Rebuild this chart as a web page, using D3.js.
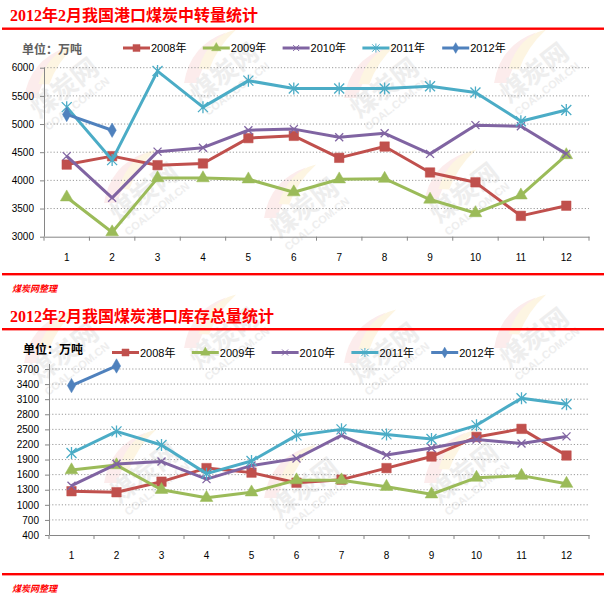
<!DOCTYPE html>
<html>
<head>
<meta charset="utf-8">
<script src="https://cdn.jsdelivr.net/npm/d3@7"></script>
<style>
  body { margin: 0; background: #fff; }
  svg { display: block; }
  .tick-label { font-family: "Liberation Sans", Arial, sans-serif; font-size: 10px; fill: #000; }
  .legend-text { font-family: "Liberation Sans", "Noto Sans CJK SC", sans-serif; font-size: 11px; fill: #000; }
  .title { font-family: "Liberation Serif", "Noto Sans CJK SC", serif; font-size: 16px; font-weight: bold; fill: #ff0000; }
  .footer { font-family: "Noto Sans CJK SC", sans-serif; font-size: 9px; font-weight: bold; font-style: italic; fill: #ff0000; }
  .unit { font-family: "Noto Sans CJK SC", sans-serif; font-size: 12px; font-weight: bold; }
</style>
</head>
<body>
<svg id="chart" width="606" height="596"></svg>
<script>
// months on the x axis
const months = ['1', '2', '3', '4', '5', '6', '7', '8', '9', '10', '11', '12'];
const seriesNames = ['2008年', '2009年', '2010年', '2011年', '2012年'];

// 港口煤炭中转量 (万吨)
const transfer2008 = [4280, 4430, 4270, 4300, 4750, 4790, 4400, 4600, 4140, 3965, 3370, 3550];
const transfer2009 = [3700, 3080, 4040, 4040, 4020, 3790, 4020, 4030, 3660, 3420, 3735, 4450];
const transfer2010 = [4430, 3690, 4510, 4580, 4890, 4910, 4765, 4835, 4470, 4980, 4960, 4470];
const transfer2011 = [5300, 4360, 5940, 5300, 5770, 5630, 5630, 5630, 5670, 5560, 5050, 5250];
const transfer2012 = [5170, 4890];

// 港口库存总量 (万吨)
const stock2008 = [1270, 1250, 1460, 1730, 1640, 1440, 1500, 1730, 1960, 2350, 2510, 1980];
const stock2009 = [1690, 1790, 1300, 1140, 1250, 1490, 1490, 1360, 1210, 1540, 1580, 1420];
const stock2010 = [1380, 1810, 1860, 1510, 1780, 1920, 2380, 1990, 2130, 2300, 2220, 2360];
const stock2011 = [2030, 2460, 2190, 1620, 1870, 2380, 2500, 2400, 2310, 2580, 3120, 3000];
const stock2012 = [3370, 3760];

const transferTicks = [3000, 3500, 4000, 4500, 5000, 5500, 6000];
const stockTicks = [400, 700, 1000, 1300, 1600, 1900, 2200, 2500, 2800, 3100, 3400, 3700];

const colors = ['#C0504D', '#9BBB59', '#8064A2', '#4BACC6', '#4F81BD'];
const markers = ['square', 'triangle', 'cross', 'star', 'diamond'];

const svg = d3.select('#chart');
svg.append('rect').attr('width', 606).attr('height', 596).attr('fill', '#fff');

// faint site watermark, kept inside the picture
const wm = svg.append('g');
[[70, 95], [230, 80], [390, 95], [540, 80],
 [150, 200], [310, 215], [470, 200],
 [70, 360], [230, 345], [390, 360], [540, 345],
 [150, 480], [310, 495], [470, 480]].forEach(([x, y]) => {
  const g = wm.append('g').attr('transform', `translate(${x},${y}) rotate(-38)`);
  g.append('path').attr('d', 'M-38,-26 Q-10,-52 26,-40 Q0,-36 -28,-18 Z').attr('fill', '#fcecec');
  g.append('path').attr('d', 'M-18,-28 Q10,-48 36,-36 Q10,-34 -10,-21 Z').attr('fill', '#fdf5e2');
  g.append('text').attr('x', 0).attr('y', 0).attr('text-anchor', 'middle')
    .style('font-family', 'Noto Sans CJK SC').style('font-weight', 'bold').style('font-size', '26px')
    .attr('fill', '#eeeeee').text('煤炭网');
  g.append('text').attr('x', 0).attr('y', 15).attr('text-anchor', 'middle')
    .style('font-family', 'Liberation Sans').style('font-weight', 'bold').style('font-size', '11px')
    .attr('fill', '#eeeeee').text('COAL.COM.CN');
});

function markerPath(kind) {
  if (kind === 'square') return d3.symbol(d3.symbolSquare, 90)();
  if (kind === 'triangle') return d3.symbol(d3.symbolTriangle, 70)();
  if (kind === 'diamond') return d3.symbol(d3.symbolDiamond, 60)();
  if (kind === 'cross') return 'M-4,-4L4,4M-4,4L4,-4';
  return 'M-5,-5L5,5M-5,5L5,-5M0,-6L0,6';
}

function drawMarker(g, kind, color, x, y, scale) {
  const p = g.append('path').attr('d', markerPath(kind))
    .attr('transform', `translate(${x},${y}) scale(${scale || 1})`);
  if (kind === 'cross' || kind === 'star') p.attr('fill', 'none').attr('stroke', color).attr('stroke-width', 1.3);
  else p.attr('fill', color).attr('stroke', color).attr('stroke-width', 0.5);
}

function drawPanel(opt) {
  const g = svg.append('g');
  g.append('text').attr('class', 'title').attr('x', 10).attr('y', opt.titleY).text(opt.title);
  g.append('rect').attr('x', 2).attr('y', opt.titleLineY - 1).attr('width', 602).attr('height', 2.4).attr('fill', '#ff0000');
  g.append('text').attr('class', 'unit').attr('x', opt.unitX).attr('y', opt.unitY)
    .attr('fill', opt.unitColor).text('单位：万吨');

  // legend
  seriesNames.forEach((name, i) => {
    const lx = opt.legendX + i * 79.8;
    g.append('line').attr('x1', lx).attr('x2', lx + 27).attr('y1', opt.legendY).attr('y2', opt.legendY)
      .attr('stroke', colors[i]).attr('stroke-width', 3);
    drawMarker(g, markers[i], colors[i], lx + 13.5, opt.legendY, 0.75);
    g.append('text').attr('class', 'legend-text').attr('x', lx + 28).attr('y', opt.legendY + 4).text(name);
  });

  const x = d3.scaleBand().domain(months).range([opt.left, opt.right]);
  const y = d3.scaleLinear().domain(opt.domain).range([opt.bottom, opt.top]);

  // dotted gridlines
  g.append('g').selectAll('line').data(opt.ticks.slice(1)).join('line')
    .attr('x1', opt.left).attr('x2', opt.right)
    .attr('y1', d => y(d)).attr('y2', d => y(d))
    .attr('stroke', '#9a9a9a').attr('stroke-width', 1).attr('stroke-dasharray', '1.2,2');

  // y axis
  const ya = g.append('g').attr('transform', `translate(${opt.left},0)`)
    .call(d3.axisLeft(y).tickValues(opt.ticks).tickFormat(d3.format('d')).tickSize(4).tickPadding(6).tickSizeOuter(0));
  ya.select('.domain').attr('stroke', '#868686').attr('d', `M0.5,${opt.bottom}V${opt.axisTop}`);
  ya.selectAll('.tick line').attr('stroke', '#868686');
  ya.selectAll('.tick text').attr('class', 'tick-label').attr('fill', '#000');

  // x axis
  const xa = g.append('g').attr('transform', `translate(0,${opt.bottom})`)
    .call(d3.axisBottom(x).tickSize(0).tickPadding(17));
  xa.select('.domain').attr('stroke', '#868686');
  xa.selectAll('.tick text').attr('class', 'tick-label').attr('fill', '#000');
  g.append('g').selectAll('line').data(d3.range(months.length + 1)).join('line')
    .attr('x1', i => opt.left + i * x.step()).attr('x2', i => opt.left + i * x.step())
    .attr('y1', opt.bottom).attr('y2', opt.bottom + 4).attr('stroke', '#868686');

  // series
  const line = d3.line().x((d, i) => x(months[i]) + x.bandwidth() / 2).y(d => y(d));
  opt.series.forEach((vals, s) => {
    g.append('path').datum(vals).attr('d', line).attr('fill', 'none')
      .attr('stroke', colors[s]).attr('stroke-width', 3).attr('stroke-linejoin', 'round');
    vals.forEach((v, i) => drawMarker(g, markers[s], colors[s], x(months[i]) + x.bandwidth() / 2, y(v), 1));
  });

  g.append('rect').attr('x', 2).attr('y', opt.bottomLineY - 1).attr('width', 602).attr('height', 2.4).attr('fill', '#ff0000');
  g.append('text').attr('class', 'footer').attr('x', 12).attr('y', opt.footerY).text('煤炭网整理');
}

drawPanel({
  title: '2012年2月我国港口煤炭中转量统计', titleY: 21, titleLineY: 28.5,
  unitX: 22, unitY: 54, unitColor: '#5f5f5f', legendX: 123, legendY: 48,
  left: 44, right: 589, top: 67.7, bottom: 236.7, axisTop: 67.7,
  domain: [3000, 6000], ticks: transferTicks,
  series: [transfer2008, transfer2009, transfer2010, transfer2011, transfer2012],
  bottomLineY: 274, footerY: 292
});

drawPanel({
  title: '2012年2月我国煤炭港口库存总量统计', titleY: 322, titleLineY: 329,
  unitX: 23, unitY: 354, unitColor: '#000', legendX: 112, legendY: 352.5,
  left: 49, right: 589, top: 369, bottom: 535, axisTop: 364,
  domain: [400, 3700], ticks: stockTicks,
  series: [stock2008, stock2009, stock2010, stock2011, stock2012],
  bottomLineY: 574, footerY: 592
});
</script>
</body>
</html>
